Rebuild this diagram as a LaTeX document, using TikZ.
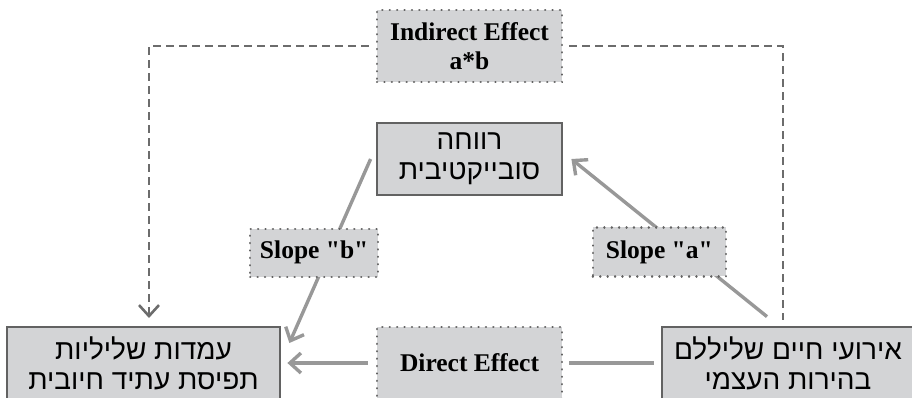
\documentclass[tikz,border=0pt]{standalone}
\usepackage{fontspec}
\setmainfont{Liberation Serif}[Ligatures=TeXOff]
\newfontfamily\hebfont[Script=Hebrew]{Liberation Sans}
\TeXXeTstate=1
\usepackage{tikz}
\usetikzlibrary{positioning,arrows.meta}
\definecolor{boxgray}{RGB}{211,212,214}
\definecolor{edgegray}{RGB}{98,98,98}
\definecolor{linegray}{RGB}{152,152,152}
\definecolor{dashgray}{RGB}{108,108,108}
\newcommand{\heb}[1]{\beginR #1\endR}

\begin{document}
\begin{tikzpicture}[x=1pt,y=1pt,
    mainbox/.style={rectangle,draw=edgegray,line width=2.8pt,fill=boxgray,inner sep=0pt,
      minimum width=185pt,minimum height=72pt,align=center,font=\hebfont\fontsize{28}{30}\selectfont},
    lbl/.style={rectangle,draw=edgegray,line width=2.4pt,dash pattern=on 0.1pt off 7.3pt,line cap=round,
      fill=boxgray,inner sep=0pt,align=center,font=\bfseries\fontsize{25.5}{29}\selectfont},
    conn/.style={draw=linegray,line width=3.4pt},
    indline/.style={draw=dashgray,line width=2.6pt,dash pattern=on 8pt off 5pt},
    >={Straight Barb[length=11pt,width=20pt]}]
  \useasboundingbox (0,0) rectangle (912,-397);
  \clip (0,0) rectangle (912,-397);

  \node[lbl,minimum width=185pt,minimum height=72pt] (ind) at (469.5,-46) {Indirect Effect\\a*b};
  \node[mainbox] (wb) at (469.5,-159) {\heb{רווחה}\\\heb{סובייקטיבית}};
  \node[mainbox,minimum width=273pt] (neg) at (143.5,-363)
    {\heb{עמדות שליליות}\\\heb{תפיסת עתיד חיובית}};
  \node[mainbox,minimum width=252pt] (life) at (788,-363)
    {\heb{אירועי חיים שליללם}\\\heb{בהירות העצמי}};
  \node[lbl,minimum width=185pt,minimum height=72pt] (dir) at (469.5,-363) {Direct Effect};

  \coordinate (dl) at (149,-318); \coordinate (dr) at (783,-320);

  % indirect path
  \draw[indline,->,shorten <=7pt] (ind) -| (dl);
  \draw[indline,shorten <=6pt] (ind) -| (dr);

  % slopes a and b
  \draw[conn,->] ([shift={(-21pt,9pt)}]life.north) -- node[lbl,pos=0.41,xshift=-27.5pt,
    minimum width=133pt,minimum height=49pt] (sla) {Slope "a"} ([xshift=8pt]wb.east);
  \draw[conn,->] ([xshift=-5pt]wb.west) -- node[lbl,pos=0.51,xshift=-15pt,
    minimum width=128pt,minimum height=48pt] (slb) {Slope "b"} ([shift={(8pt,20pt)}]neg.east);

  % direct effect
  \draw[conn,shorten <=7pt,shorten >=6pt] (life) -- (dir);
  \draw[conn,->,shorten <=8pt,shorten >=6pt] (dir) -- (neg);
\end{tikzpicture}
\end{document}
